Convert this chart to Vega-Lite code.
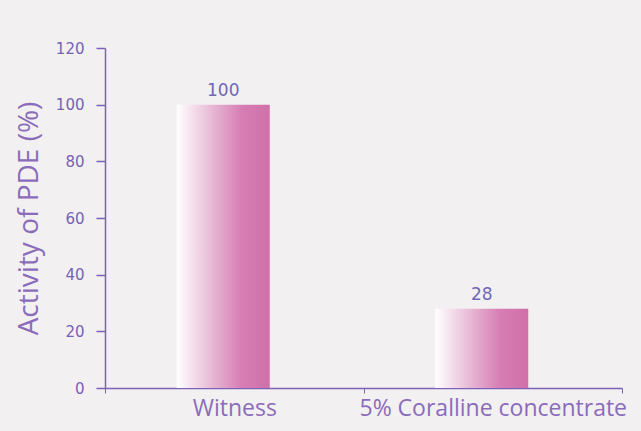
{
  "$schema": "https://vega.github.io/schema/vega-lite/v6.json",
  "width": 517,
  "height": 340,
  "autosize": {"type": "none"},
  "padding": {"left": 105, "top": 48, "right": 19, "bottom": 43},
  "background": "#f3f0f1",
  "config": {"view": {"stroke": null}},
  "data": {"values": [
    {"group": "Witness", "activity": 100},
    {"group": "5% Coralline concentrate", "activity": 28}
  ]},
  "encoding": {
    "x": {
      "field": "group", "type": "nominal", "sort": null,
      "scale": {"paddingInner": 0, "paddingOuter": 0},
      "axis": {
        "title": null, "labelAngle": 0, "labelFont": "Open Sans", "labelFontSize": 23,
        "labelColor": "#8a6cbb", "labelPadding": 4, "domainColor": "#7a62b8", "domainWidth": 1.5,
        "tickColor": "#7a62b8", "tickBand": "extent", "tickSize": 5, "labelOverlap": false, "labelLimit": 400
      }
    },
    "y": {
      "field": "activity", "type": "quantitative",
      "scale": {"domain": [0, 120]},
      "axis": {
        "title": "Activity of PDE (%)", "titleFont": "Open Sans", "titleFontSize": 28, "titleFontWeight": "normal",
        "titleColor": "#8a6cbb", "titlePadding": 12,
        "values": [0, 20, 40, 60, 80, 100, 120], "grid": false,
        "labelFont": "DejaVu Sans", "labelFontSize": 15, "labelColor": "#7562b3", "labelPadding": 12,
        "domainColor": "#7a62b8", "domainWidth": 1.5, "tickColor": "#7a62b8", "tickSize": 9, "tickWidth": 1.5
      }
    }
  },
  "layer": [
    {
      "mark": {
        "type": "bar", "size": 93, "xOffset": -11,
        "color": {
          "gradient": "linear", "x1": 0, "x2": 1, "y1": 0, "y2": 0,
          "stops": [
            {"offset": 0, "color": "#ffffff"},
            {"offset": 0.4, "color": "#e6b4d2"},
            {"offset": 0.7, "color": "#d77db4"},
            {"offset": 1, "color": "#d070a9"}
          ]
        }
      }
    },
    {
      "mark": {"type": "text", "dy": -14, "xOffset": -11, "font": "DejaVu Sans", "fontSize": 17, "color": "#7066b8"},
      "encoding": {"text": {"field": "activity", "type": "quantitative"}}
    }
  ]
}
